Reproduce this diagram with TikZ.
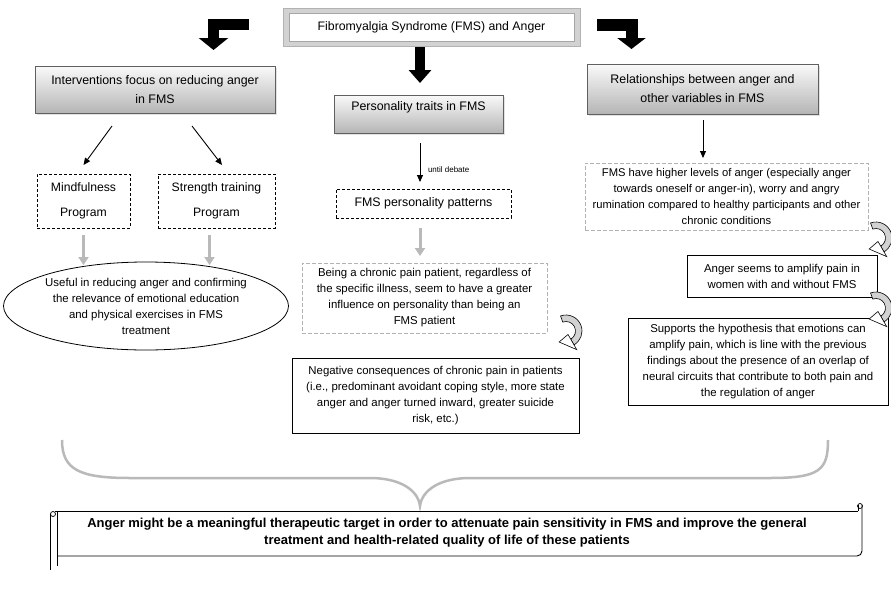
\documentclass[tikz,border=0pt]{standalone}
\usepackage{fontspec}
\setmainfont{Liberation Sans}
\usetikzlibrary{arrows.meta,shapes.geometric,shadows,calc}
\begin{document}
\begin{tikzpicture}[x=1pt,y=-1pt,
  every node/.style={inner sep=0pt,outer sep=0pt,align=center},
  bodyfont/.style={font=\fontsize{11.4}{16}\selectfont},
  hdr/.style={draw=gray!75!black,line width=0.6pt,top color=gray!4,bottom color=gray!58,
    drop shadow={shadow xshift=2pt,shadow yshift=-2pt,fill=gray!45},font=\fontsize{12.4}{19}\selectfont},
  bdash/.style={draw=black,line width=1pt,dash pattern=on 3pt off 2pt},
  gdash/.style={draw=gray!60,line width=0.9pt,dash pattern=on 4pt off 2pt},
  plain/.style={draw=black,line width=0.8pt},
  barrow/.style={draw=black,line width=0.9pt,-{Triangle[length=7pt,width=6pt]}},
  garrow/.style={draw=gray!55,line width=3pt,-{Triangle[length=8pt,width=10pt]}},
  blockarrow/.style={draw=black,line width=11pt,line join=miter,-{Triangle[length=12pt,width=29pt]}},
  uturn/.pic={
    \path[fill=gray!35,draw=black,line width=0.6pt] (-110:16) arc[start angle=-110,end angle=60,radius=16]
      -- (60:9.5) arc[start angle=60,end angle=-110,radius=9.5] -- cycle;
    \path[fill=white,draw=black,line width=0.6pt] (60:4) -- (60:21.5) -- (122:13) -- cycle;
  }]
\useasboundingbox (0,0) rectangle (891,589);
\fill[white] (0,0) rectangle (891,589);

% title
\node[draw=gray!60,line width=1pt,fill=gray!35,minimum width=297pt,minimum height=38pt] (titleo) at (431.5,27) {};
\node[draw=gray!70,line width=0.5pt,fill=white,minimum width=285pt,minimum height=28pt,font=\fontsize{12.3}{15}\selectfont] (title) at (431.5,27) {Fibromyalgia Syndrome (FMS) and Anger};

% bent block arrows
\coordinate (la) at (249,24.5);
\coordinate (lb) at (213.5,50);
\draw[blockarrow] (la) -| (lb);
\coordinate (ra) at (597,24.5);
\coordinate (rb) at (631.5,49);
\draw[blockarrow,line width=12pt,-{Triangle[length=11pt,width=28pt]}] (ra) -| (rb);

% headers
\node[hdr,minimum width=240pt,minimum height=47pt] (lh) at (155,89.5) {Interventions focus on reducing anger\\in FMS};
\node[hdr,minimum width=169pt,minimum height=38pt] (pers) at (418.5,114) {};
\node[font=\fontsize{12.4}{19}\selectfont] (perst) at (418.5,107) {Personality traits in FMS};
\node[hdr,minimum width=231pt,minimum height=50pt] (rh) at (702.5,89) {Relationships between anger and\\other variables in FMS};

\draw[blockarrow,line width=10pt,-{Triangle[length=13pt,width=22pt]},shorten <=6pt,shorten >=12pt] (title.south -| 420,0) -- (pers.north -| 420,0);

% left column
\node[bdash,minimum width=93pt,minimum height=54pt,font=\fontsize{12.2}{25}\selectfont] (mind) at (83.5,201) {Mindfulness\\Program};
\node[bdash,minimum width=117pt,minimum height=54pt,font=\fontsize{12.2}{25}\selectfont] (str) at (216.5,201) {Strength training\\Program};
\coordinate (d1) at (112,126);
\coordinate (d2) at (192,126);
\draw[barrow] (d1) -- ([yshift=9pt]mind.north);
\draw[barrow] (d2) -- ([xshift=5.5pt,yshift=9pt]str.north);
\node[ellipse,draw=black,line width=0.8pt,minimum width=272pt,minimum height=88pt,bodyfont] (use) at (146,306)
  {Useful in reducing anger and confirming\\the relevance of emotional education\\and physical exercises in FMS\\treatment};
\draw[garrow] ([yshift=-7pt]mind.south) -- ([yshift=-37pt]mind.south);
\draw[garrow] ([xshift=-7pt,yshift=-7pt]str.south) -- ([xshift=-7pt,yshift=-37pt]str.south);

% center column
\node[bdash,minimum width=175pt,minimum height=29pt,font=\fontsize{12.4}{15}\selectfont] (pat) at (423.5,203.5) {FMS personality patterns};
\draw[barrow,shorten <=10pt,shorten >=7pt] (pers.south -| 420,0) -- (pat.north -| 420,0);
\node[anchor=west,font=\fontsize{8}{10}\selectfont] (ud) at (428,170) {until debate};
\node[gdash,minimum width=245pt,minimum height=70pt,bodyfont] (being) at (424.5,298)
  {Being a chronic pain patient, regardless of\\the specific illness, seem to have a greater\\influence on personality than being an\\FMS patient};
\draw[garrow,shorten <=10pt,shorten >=7pt] (pat.south -| 420,0) -- (being.north -| 420,0);
\node[plain,minimum width=287pt,minimum height=75pt,bodyfont] (neg) at (435.5,395.5)
  {Negative consequences of chronic pain in patients\\(i.e., predominant avoidant coping style, more state\\anger and anger turned inward, greater suicide\\risk, etc.)};
\pic at (566,331) {uturn};

% right column
\node[gdash,minimum width=283pt,minimum height=67pt,font=\fontsize{11.2}{16}\selectfont] (fms) at (726.5,196.5)
  {FMS have higher levels of anger (especially anger\\towards oneself or anger-in), worry and angry\\rumination compared to healthy participants and other\\chronic conditions};
\draw[barrow,shorten <=6pt,shorten >=5pt] (rh.south -| 703,0) -- (fms.north -| 703,0);
\node[plain,minimum width=190pt,minimum height=42pt,bodyfont] (ang) at (782,276)
  {Anger seems to amplify pain in\\women with and without FMS};
\node[plain,minimum width=260pt,minimum height=87pt,bodyfont] (sup) at (758,361.5)
  {Supports the hypothesis that emotions can\\amplify pain, which is line with the previous\\findings about the presence of an overlap of\\neural circuits that contribute to both pain and\\the regulation of anger};
\pic at (876,238) {uturn};
\pic at (876,308) {uturn};

% brace
\draw[gray!55,line width=2.5pt]
  (62,440) .. controls (62,470) and (80,478) .. (130,478) -- (370,478)
  .. controls (400,478) and (418,490) .. (420,506)
  .. controls (422,490) and (440,478) .. (470,478) -- (770,478)
  .. controls (820,478) and (828,470) .. (828,440);

% scroll
\draw[line width=0.9pt] (55,511) -- (858,511);
\draw[line width=0.9pt] (862,505) -- (862,551) arc[start angle=0,end angle=90,radius=5] -- (57,556);
\draw[line width=0.9pt] (858,511) -- (858,505);
\draw[line width=0.7pt] (860,506) circle[radius=2.5];
\draw[line width=0.9pt] (50,514) -- (50,570);
\draw[line width=0.9pt] (57,511) -- (57,566);
\draw[line width=0.7pt] (53,514) circle[radius=2.5];
\node[font=\bfseries\fontsize{13}{17}\selectfont] (concl) at (447,533)
  {Anger might be a meaningful therapeutic target in order to attenuate pain sensitivity in FMS and improve the general\\treatment and health-related quality of life of these patients};
\end{tikzpicture}
\end{document}
